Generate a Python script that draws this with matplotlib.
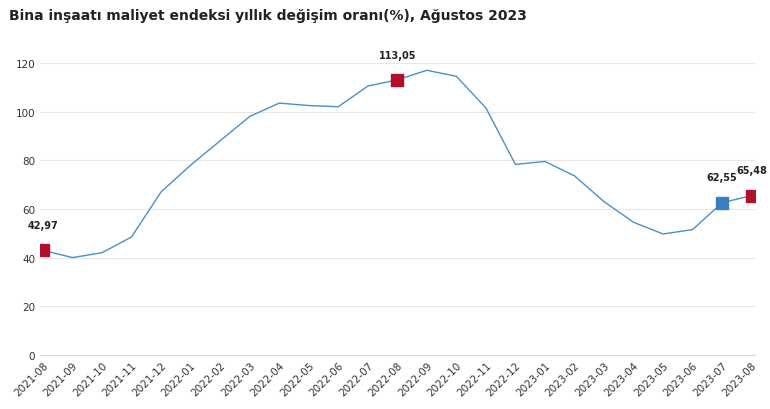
import matplotlib.pyplot as plt

months = ['2021-08', '2021-09', '2021-10', '2021-11', '2021-12', '2022-01', '2022-02',
          '2022-03', '2022-04', '2022-05', '2022-06', '2022-07', '2022-08', '2022-09',
          '2022-10', '2022-11', '2022-12', '2023-01', '2023-02', '2023-03', '2023-04',
          '2023-05', '2023-06', '2023-07', '2023-08']
values = [42.97, 40.0, 42.0, 48.5, 67.0, 78.0, 88.0, 98.0, 103.5, 102.5, 102.0, 110.5,
          113.05, 117.0, 114.5, 101.5, 78.3, 79.5, 73.6, 63.0, 54.5, 49.7, 51.5, 62.55, 65.48]
red_idx = [0, 12, 24]
blue_idx = [23]
labels = {0: '42,97', 12: '113,05', 23: '62,55', 24: '65,48'}

fig = plt.figure(figsize=(7.7, 4.1), dpi=100)
ax = fig.add_axes([0.052, 0.132, 0.928, 0.712])
x = list(range(len(months)))
ax.plot(x, values, color='#4a90c8', lw=1)
ax.scatter([x[i] for i in red_idx], [values[i] for i in red_idx], marker='s', s=80,
           color='#b0102a', zorder=3)
ax.scatter([x[i] for i in blue_idx], [values[i] for i in blue_idx], marker='s', s=80,
           color='#3a7fc0', zorder=3)
for i, t in labels.items():
    ax.annotate(t, (x[i], values[i]), xytext=(0, 16), textcoords='offset points',
                ha='center', fontsize=7, fontweight='bold', color='#222222')

ax.set_ylim(0, 120)
ax.set_yticks(range(0, 121, 20))
ax.set_xlim(-0.1, len(months) - 0.9)
ax.set_xticks(x)
ax.set_xticklabels(months, rotation=45, ha='right', rotation_mode='anchor', fontsize=7.5,
                   color='#333333')
ax.tick_params(axis='y', labelsize=7.5, colors='#333333', length=0)
ax.tick_params(axis='x', length=0)
ax.grid(axis='y', color='#e6e6e6', lw=0.8)
ax.set_axisbelow(True)
for s in ['top', 'right', 'left']:
    ax.spines[s].set_visible(False)
ax.spines['bottom'].set_color('#dddddd')

fig.text(0.012, 0.962, 'Bina inşaatı maliyet endeksi yıllık değişim oranı(%), Ağustos 2023',
         fontsize=10, fontweight='bold', color='#222222', va='center')
fig.savefig('out.png', dpi=100)
